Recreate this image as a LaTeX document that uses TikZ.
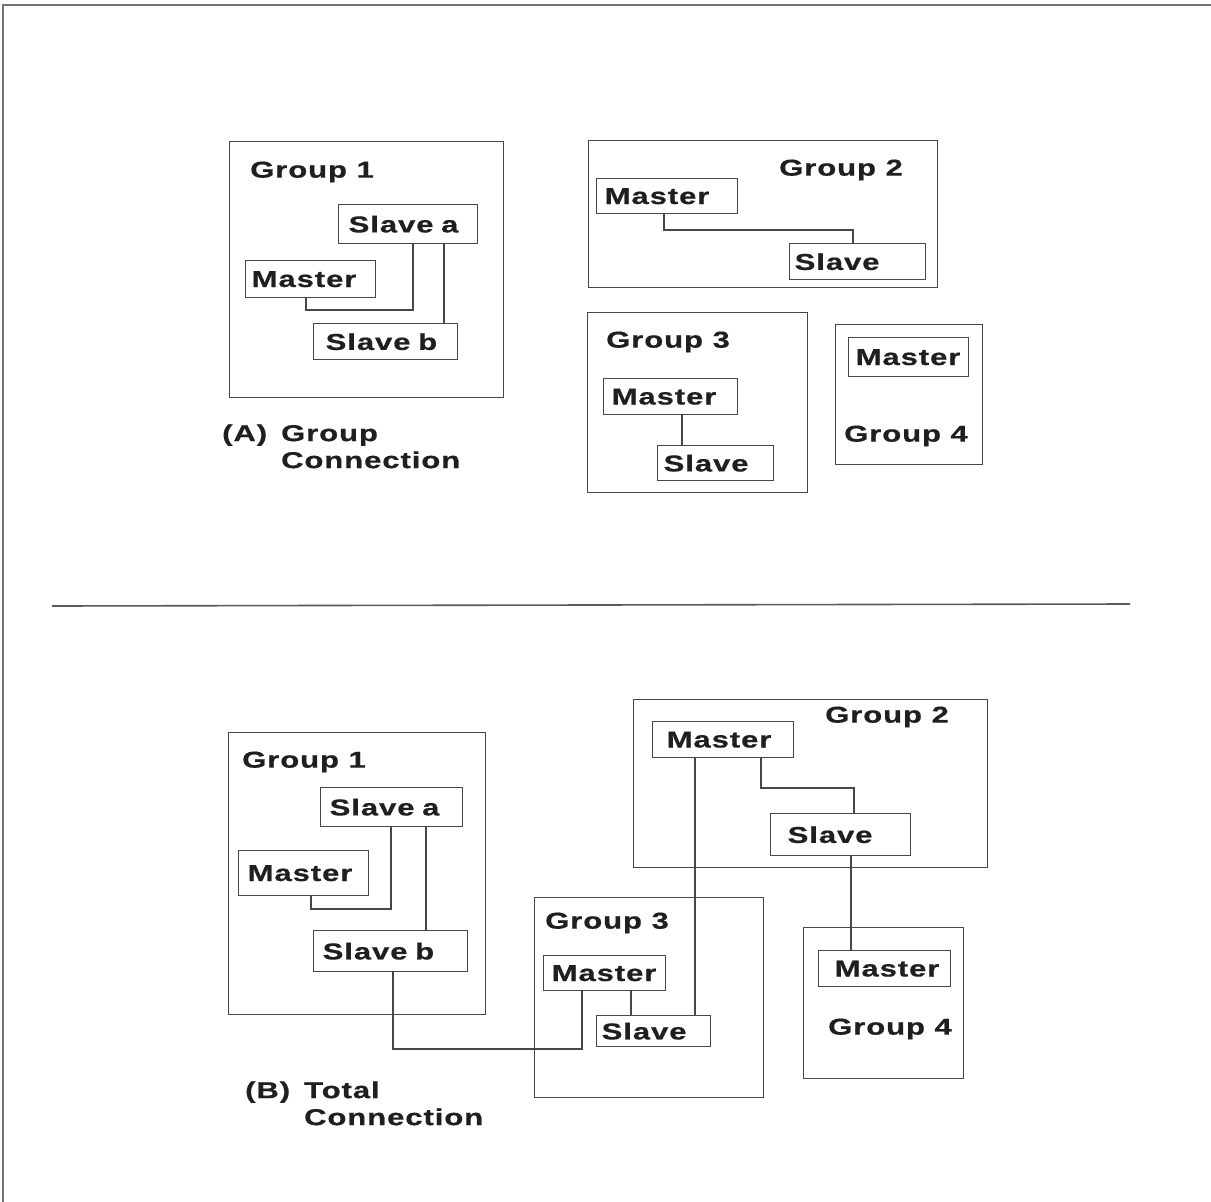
\documentclass[tikz,border=0pt]{standalone}
\usepackage{fontspec}
\newfontfamily\lbl{Liberation Sans}[UprightFont={* Bold}, FakeStretch=1.35, LetterSpace=4, FakeBold=0.6]
\begin{document}
\begin{tikzpicture}[x=1pt,y=-1pt,
  font=\lbl\fontsize{23}{27}\selectfont,
  grp/.style 2 args={draw=black!72, line width=1.4pt, anchor=north west, inner sep=0pt, minimum width=#1pt, minimum height=#2pt},
  box/.style n args={3}{draw=black!72, line width=1.4pt, anchor=north west, inner sep=0pt,
     text width=#1pt, minimum height=#2pt, align=left, text=black!88,
     execute at begin node={\hspace*{#3pt}}},
  grplabel/.style={anchor=west, inner sep=0pt, text=black!88},
  wire/.style={draw=black!72, line width=1.3pt},
  frameline/.style={draw=black!55, line width=1.2pt}]
\useasboundingbox (0,0) rectangle (1211,1202);
% frame and separator
\coordinate (fbl) at (3,1202);
\coordinate (ftl) at (3,5);
\coordinate (ftr) at (1211,5);
\draw[frameline] (fbl) -- (ftl) -- (ftr);
\coordinate (sepl) at (52,606);
\coordinate (sepr) at (1130,604);
\draw[draw=black!65, line width=1.6pt] (sepl) -- (sepr);

% ===== Panel A =====
\node[grp={274}{256}] (gA1) at (229,141) {};
\node[grplabel] (tA1) at (250,172) {Group 1};
\node[box={139}{39}{10}] (saA1) at (338,204) {Slave a};
\node[box={130}{37}{6}] (mA1) at (245,260) {Master};
\node[box={144}{36}{12}] (sbA1) at (313,323) {Slave b};
\draw[wire] (mA1.south -| 306,0) |- (413,310) -- (saA1.south -| 413,0);
\draw[wire] (saA1.south -| 444,0) -- (sbA1.north -| 444,0);
\node[anchor=north west, inner sep=0pt, text=black!88] (capA) at (222,422)
  {\begin{tabular}{@{}l@{\hspace{14pt}}l@{}}(A)&Group\\&Connection\end{tabular}};

\node[grp={349}{147}] (gA2) at (588,140) {};
\node[grplabel] (tA2) at (779,170) {Group 2};
\node[box={141}{35}{8}] (mA2) at (596,178) {Master};
\node[box={136}{36}{5}] (sA2) at (789,243) {Slave};
\draw[wire] (mA2.south -| 664,0) |- (853,230) -- (sA2.north -| 853,0);

\node[grp={220}{180}] (gA3) at (587,312) {};
\node[grplabel] (tA3) at (606,342) {Group 3};
\node[box={134}{36}{8}] (mA3) at (603,378) {Master};
\node[box={116}{35}{6}] (sA3) at (657,445) {Slave};
\draw[wire] (mA3.south -| 682,0) -- (sA3.north -| 682,0);

\node[grp={147}{140}] (gA4) at (835,324) {};
\node[box={120}{39}{7}] (mA4) at (848,337) {Master};
\node[grplabel] (tA4) at (844,436) {Group 4};

% ===== Panel B =====
\node[grp={257}{282}] (gB1) at (228,732) {};
\node[grplabel] (tB1) at (242,762) {Group 1};
\node[box={142}{39}{9}] (saB1) at (320,787) {Slave a};
\node[box={130}{45}{9}] (mB1) at (238,850) {Master};
\node[box={154}{41}{9}] (sbB1) at (313,930) {Slave b};

\node[grp={354}{168}] (gB2) at (633,699) {};
\node[grplabel] (tB2) at (825,717) {Group 2};
\node[box={141}{36}{14}] (mB2) at (652,721) {Master};
\node[box={140}{42}{17}] (sB2) at (770,813) {Slave};

\node[grp={229}{200}] (gB3) at (534,897) {};
\node[grplabel] (tB3) at (545,923) {Group 3};
\node[box={122}{35}{8}] (mB3) at (543,955) {Master};
\node[box={114}{31}{5}] (sB3) at (596,1015) {Slave};

\node[grp={160}{151}] (gB4) at (803,927) {};
\node[box={132}{36}{16}] (mB4) at (818,950) {Master};
\node[grplabel] (tB4) at (828,1029) {Group 4};

\draw[wire] (mB1.south -| 311,0) |- (391,909) -- (saB1.south -| 391,0);
\draw[wire] (saB1.south -| 426,0) -- (sbB1.north -| 426,0);
\draw[wire] (sbB1.south -| 393,0) |- (582,1049) -- (mB3.south -| 582,0);
\draw[wire] (mB2.south -| 761,0) |- (854,788) -- (sB2.north -| 854,0);
\draw[wire] (mB2.south -| 695,0) -- (sB3.north -| 695,0);
\draw[wire] (sB2.south -| 851,0) -- (mB4.north -| 851,0);
\draw[wire] (mB3.south -| 631,0) -- (sB3.north -| 631,0);

\node[anchor=north west, inner sep=0pt, text=black!88] (capB) at (245,1079)
  {\begin{tabular}{@{}l@{\hspace{14pt}}l@{}}(B)&Total\\&Connection\end{tabular}};
\end{tikzpicture}
\end{document}
